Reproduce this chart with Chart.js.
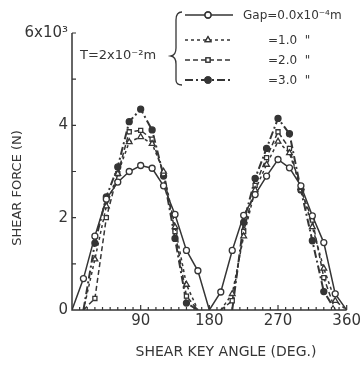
<!DOCTYPE html>
<html><head><meta charset="utf-8">
<script src="https://cdn.jsdelivr.net/npm/chart.js@4.4.0/dist/chart.umd.min.js"></script>
<style>html,body{margin:0;padding:0;background:#fff}canvas{display:block}</style>
</head><body>
<canvas id="c" width="363" height="365"></canvas>
<script>
// ---- data (shear force in 10^3 N vs shear key angle in degrees) ----
const angles = [0,15,30,45,60,75,90,105,120,135,150,165,180,195,210,225,240,255,270,285,300,315,330,345,360];
const gap00 = [0,0.68,1.6,2.4,2.77,3.0,3.13,3.07,2.69,2.07,1.29,0.85,0,0.39,1.29,2.05,2.5,2.9,3.26,3.08,2.69,2.04,1.46,0.35,0];
const gap10 = [null,0,1.1,2.25,2.95,3.64,3.75,3.6,3.0,1.8,0.55,0,null,0,0.35,1.6,2.6,3.15,3.65,3.4,2.65,1.8,0.9,0.2,0];
const gap20 = [null,0,0.25,2.0,2.95,3.86,3.89,3.7,2.95,1.7,0.3,0,null,0,0.2,1.7,2.7,3.3,3.86,3.5,2.6,1.95,0.7,0,null];
const gap30 = [null,0,1.45,2.45,3.1,4.08,4.35,3.9,2.9,1.55,0.15,0,null,null,0,1.9,2.85,3.5,4.15,3.82,2.6,1.5,0.4,0,null];
const seriesNames = ['Gap=0.0x10⁻⁴m','=1.0  "','=2.0  "','=3.0  "'];
const xTickLabels = [90,180,270,360];
const yTickLabels = {0:'0',2:'2',4:'4',6:'6x10³'};
const thickness = 'T=2x10⁻²m';

const INK = '#353535';
const FONT = '"DejaVu Sans", sans-serif';
const toPts = arr => angles.map((a,i)=>({x:a,y:arr[i]}));
const rad = r => ctx => (ctx.raw && ctx.raw.y === 0) ? 0 : r;
const TARGET = {left:72, top:33, right:347, bottom:310};

const styles = [
  {pointStyle:'circle', fill:'#fff', dash:[], r:3, w:1.5},
  {pointStyle:'triangle', fill:'#fff', dash:[3,3], r:3.3, w:1.5},
  {pointStyle:'rect', fill:'#fff', dash:[5,3], r:2.9, w:1.5},
  {pointStyle:'circle', fill:INK, dash:[8,3,2,3], r:3, w:2}
];
const allSeries = [gap00,gap10,gap20,gap30];

const datasets = allSeries.map((arr,i)=>({
  label: seriesNames[i],
  data: toPts(arr),
  borderColor: INK,
  backgroundColor: styles[i].fill,
  pointBackgroundColor: styles[i].fill,
  pointBorderColor: INK,
  pointBorderWidth: 1.3,
  pointStyle: styles[i].pointStyle,
  pointRadius: rad(styles[i].r),
  borderWidth: styles[i].w,
  borderDash: styles[i].dash,
  spanGaps: false,
  tension: 0
}));

const deco = {
  id: 'deco',
  afterDraw(chart) {
    const c = chart.ctx, xs = chart.scales.x, ys = chart.scales.y, a = chart.chartArea;
    c.save();
    c.strokeStyle = INK; c.fillStyle = INK; c.lineWidth = 1.5;
    // axes
    c.beginPath();
    c.moveTo(a.left, a.top); c.lineTo(a.left, a.bottom); c.lineTo(a.right, a.bottom);
    c.stroke();
    // inside ticks
    c.lineWidth = 1.2;
    c.beginPath();
    for (let v = 10; v <= 360; v += 10) {
      const px = xs.getPixelForValue(v);
      const L = (v % 90 === 0) ? 5 : 3;
      c.moveTo(px, a.bottom); c.lineTo(px, a.bottom - L);
    }
    for (let v = 1; v <= 6; v++) {
      const py = ys.getPixelForValue(v);
      c.moveTo(a.left, py); c.lineTo(a.left + 4, py);
    }
    c.stroke();
    // axis titles
    c.font = '14px ' + FONT; c.textAlign = 'center'; c.textBaseline = 'middle';
    c.fillText('SHEAR KEY ANGLE (DEG.)', 226, 352);
    c.save(); c.translate(18, 188); c.rotate(-Math.PI/2);
    c.font = '13px ' + FONT; c.fillText('SHEAR FORCE (N)', 0, 0); c.restore();
    // legend
    const rows = [15, 40, 60, 80];
    c.textAlign = 'left'; c.font = '12px ' + FONT;
    rows.forEach((y,i)=>{
      const s = styles[i];
      c.save(); c.lineWidth = s.w; c.setLineDash(s.dash);
      c.beginPath(); c.moveTo(185, y); c.lineTo(233, y); c.stroke(); c.restore();
      c.save(); c.lineWidth = 1.3; c.fillStyle = s.fill;
      Chart.helpers.drawPoint(c, {pointStyle: s.pointStyle, radius: s.r, borderWidth: 1.3, rotation: 0}, 208, y);
      c.fill(); c.stroke(); c.restore();
      c.fillText(seriesNames[i], i === 0 ? 243 : 268, y + 1);
    });
    c.font = '13px ' + FONT;
    c.fillText(thickness, 80, 56);
    // brace
    c.save(); c.lineWidth = 1.3; c.beginPath();
    c.moveTo(182, 12); c.quadraticCurveTo(176, 12, 176, 20);
    c.lineTo(176, 48); c.quadraticCurveTo(176, 55, 171, 56);
    c.quadraticCurveTo(176, 57, 176, 64);
    c.lineTo(176, 80); c.quadraticCurveTo(176, 85, 182, 85);
    c.stroke(); c.restore();
    c.restore();
  }
};

const pad = { left: 0, right: 16, top: 33, bottom: 0 };
const chart = new Chart(document.getElementById('c'), {
  type: 'line',
  data: { datasets },
  options: {
    responsive: false, animation: false, devicePixelRatio: 1,
    layout: { padding: pad },
    plugins: { legend: { display: false }, tooltip: { enabled: false } },
    scales: {
      x: {
        type: 'linear', min: 0, max: 360,
        afterFit: s => { s.height = TARGET.bottom > 0 ? 365 - TARGET.bottom - pad.bottom : 55; },
        afterBuildTicks: s => { s.ticks = xTickLabels.map(v => ({value: v})); },
        ticks: { color: INK, font: { family: FONT, size: 15 }, padding: 2, maxRotation: 0, autoSkip: false,
          callback: v => String(v) },
        grid: { display: false, drawTicks: false },
        border: { display: false }
      },
      y: {
        min: 0, max: 6,
        afterFit: s => { s.width = 72; },
        afterBuildTicks: s => { s.ticks = Object.keys(yTickLabels).map(v => ({value: +v})); },
        ticks: { color: INK, font: { family: FONT, size: 15 }, padding: 4,
          callback: v => yTickLabels[v] },
        grid: { display: false, drawTicks: false },
        border: { display: false }
      }
    }
  },
  plugins: [deco]
});
// correct layout so the plot area lands where the reference has it
for (let k = 0; k < 3; k++) {
  const ca = chart.chartArea;
  pad.top += TARGET.top - ca.top;
  pad.right += ca.right - TARGET.right;
  pad.left += TARGET.left - ca.left;
  pad.bottom += ca.bottom - TARGET.bottom;
  chart.options.layout.padding = { ...pad };
  chart.update('none');
}
</script>
</body></html>
